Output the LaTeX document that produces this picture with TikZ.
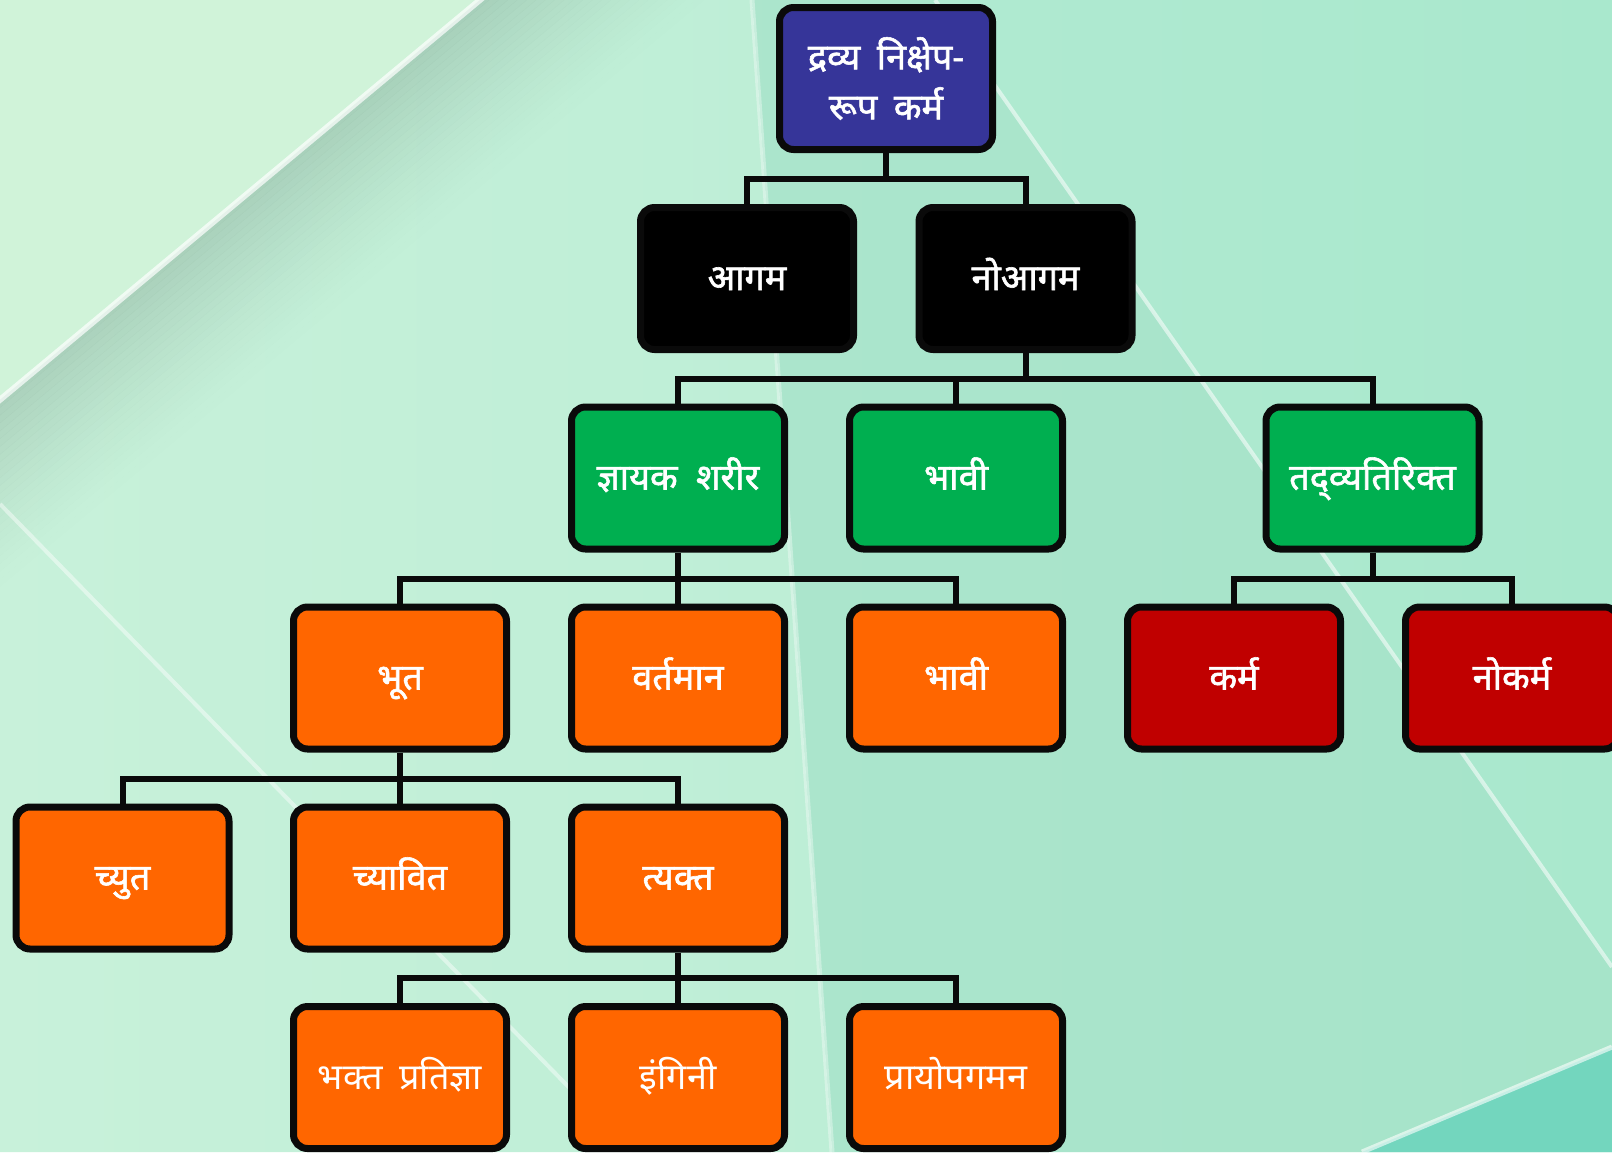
\documentclass[tikz,border=0pt]{standalone}
\usepackage{fontspec}
\newfontfamily\deva[Script=Devanagari]{Noto Sans}
\newfontfamily\devab[Script=Devanagari, FakeBold=1.6]{Noto Sans}
\usetikzlibrary{calc}
\definecolor{bgleft}{HTML}{C8F1DA}
\definecolor{bgmid}{HTML}{BDEED6}
\definecolor{bgright}{HTML}{A9E8CD}
\definecolor{bgtl}{HTML}{D0F3D9}
\definecolor{shadowc}{HTML}{6A8A78}
\definecolor{tealc}{HTML}{73D6BE}
\definecolor{blueN}{HTML}{363599}
\definecolor{greenN}{HTML}{00AF50}
\definecolor{orangeN}{HTML}{FF6600}
\definecolor{redN}{HTML}{C00000}
\definecolor{edge}{HTML}{0A0A0A}
\begin{document}
\begin{tikzpicture}[x=0.5pt,y=-0.5pt,
  box/.style={draw=edge, line width=3.5pt, rounded corners=7pt,
    minimum width=106.5pt, minimum height=71pt, inner sep=0pt,
    text=white, align=center,
    font=\devab\fontsize{18}{25}\selectfont},
  one/.style={text height=14pt, text depth=2.5pt},
  plain/.style={font=\deva\fontsize{18}{25}\selectfont},
  conn/.style={line width=3pt, draw=edge, line join=miter}]
\useasboundingbox (0,0) rectangle (1612,1152);
\clip (0,0) rectangle (1612,1152);
% ---------- background ----------
\shade[left color=bgleft, right color=bgmid] (0,0) -- (752,0) -- (832,1152) -- (0,1152) -- cycle;
\shade[left color=bgright!90!white, right color=bgright] (752,0) -- (1612,0) -- (1612,1152) -- (832,1152) -- cycle;
\fill[bgright!92!black!60!bgright, opacity=0.35] (935,0) -- (1612,967) -- (1612,1152) -- (832,1152) -- (752,0) -- cycle;
\fill[bgtl] (-400,733) -- (900,-350) -- (-400,-350) -- cycle;
\foreach \d in {0,6,...,138}{
  \pgfmathsetmacro\op{0.30*(1-\d/144)^1.4}
  \fill[shadowc, opacity=\op] ({-400+0.64*\d},{733+0.768*\d}) -- ({900+0.64*\d},{-350+0.768*\d})
     -- ({900+0.64*(\d+6)},{-350+0.768*(\d+6)}) -- ({-400+0.64*(\d+6)},{733+0.768*(\d+6)}) -- cycle;
}
\draw[white, opacity=0.7, line width=3pt] (-400,733) -- (900,-350);
\draw[white, opacity=0.35, line width=2.5pt] (752,0) -- (832,1152);
\draw[white, opacity=0.55, line width=2pt] (935,0) -- (1612,967);
\draw[white, opacity=0.45, line width=2pt] (0,504) -- (632,1152);
\fill[tealc] (1612,1047) -- (1362,1152) -- (1612,1152) -- cycle;
\draw[white, opacity=0.6, line width=2.5pt] (1612,1047) -- (1362,1152);
% ---------- nodes ----------
\node[box, fill=blueN] (top) at (886,78.5) {द्रव्य\hspace{0.2em} निक्षेप-\\रूप\hspace{0.2em} कर्म};
\node[box, one, fill=black] (agam) at (747,278.5) {आगम};
\node[box, one, fill=black] (noagam) at (1025.5,278.5) {नोआगम};
\node[box, one, fill=greenN] (jnayak) at (678,478) {ज्ञायक\hspace{0.25em} शरीर};
\node[box, one, fill=greenN] (bhavia) at (956,478) {भावी};
\node[box, one, fill=greenN] (tadv) at (1372.5,478) {तद्^^^^200cव्यतिरिक्त};
\node[box, one, fill=orangeN] (bhut) at (400,678) {भूत};
\node[box, one, fill=orangeN] (vart) at (678,678) {वर्तमान};
\node[box, one, fill=orangeN] (bhavib) at (956,678) {भावी};
\node[box, one, fill=redN] (karm) at (1234,678) {कर्म};
\node[box, one, fill=redN] (nokarm) at (1512,678) {नोकर्म};
\node[box, one, fill=orangeN] (chyut) at (122.5,878) {च्युत};
\node[box, one, fill=orangeN] (chyavit) at (400,878) {च्यावित};
\node[box, one, fill=orangeN] (tyakt) at (678,878) {त्यक्त};
\node[box, one, fill=orangeN, plain] (bhakt) at (400,1077.5) {भक्त\hspace{0.2em} प्रतिज्ञा};
\node[box, one, fill=orangeN, plain] (ingini) at (678,1077.5) {इंगिनी};
\node[box, one, fill=orangeN, plain] (prayo) at (956,1077.5) {प्रायोपगमन};
% ---------- connectors ----------
\draw[conn] (top.south) -- ($(top.south |- agam.north)+(0,-25)$);
\draw[conn] (agam.north) -- ++(0,-25) -| (noagam.north);
\draw[conn] (noagam.south) -- ($(noagam.south |- jnayak.north)+(0,-25)$);
\draw[conn] (jnayak.north) -- ++(0,-25) -| (tadv.north);
\draw[conn] (bhavia.north) -- ++(0,-25);
\draw[conn] (jnayak.south) -- ($(jnayak.south |- bhut.north)+(0,-25)$);
\draw[conn] (bhut.north) -- ++(0,-25) -| (bhavib.north);
\draw[conn] (vart.north) -- ++(0,-25);
\draw[conn] (tadv.south) -- ($(tadv.south |- karm.north)+(0,-25)$);
\draw[conn] (karm.north) -- ++(0,-25) -| (nokarm.north);
\draw[conn] (bhut.south) -- ($(bhut.south |- chyut.north)+(0,-25)$);
\draw[conn] (chyut.north) -- ++(0,-25) -| (tyakt.north);
\draw[conn] (chyavit.north) -- ++(0,-25);
\draw[conn] (tyakt.south) -- ($(tyakt.south |- bhakt.north)+(0,-25)$);
\draw[conn] (bhakt.north) -- ++(0,-25) -| (prayo.north);
\draw[conn] (ingini.north) -- ++(0,-25);
\end{tikzpicture}
\end{document}
